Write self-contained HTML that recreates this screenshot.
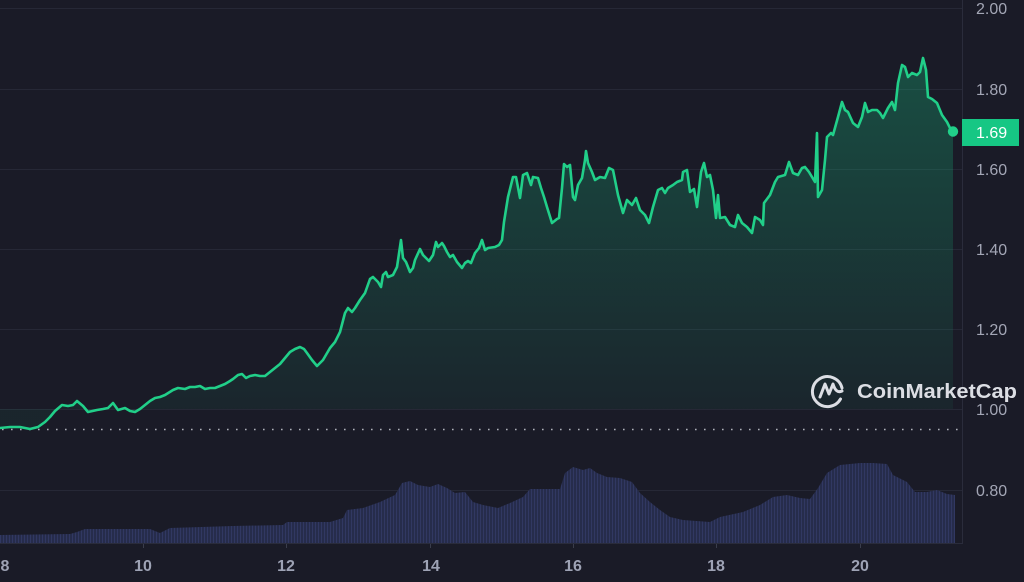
<!DOCTYPE html>
<html>
<head>
<meta charset="utf-8">
<style>
html,body{margin:0;padding:0;background:#1a1b27;}
svg{display:block;}
text{font-family:"Liberation Sans",sans-serif;}
</style>
</head>
<body>
<svg width="1024" height="582" viewBox="0 0 1024 582" xmlns="http://www.w3.org/2000/svg">
<defs>
<linearGradient id="fillg" x1="0" y1="58" x2="0" y2="409" gradientUnits="userSpaceOnUse">
<stop offset="0" stop-color="#16c784" stop-opacity="0.30"/>
<stop offset="1" stop-color="#16c784" stop-opacity="0.06"/>
</linearGradient>
<pattern id="vstripe" width="3" height="10" patternUnits="userSpaceOnUse">
<rect x="0" y="0" width="3" height="10" fill="#262c4b"/>
<rect x="0" y="0" width="1" height="10" fill="#313862"/>
</pattern>
</defs>
<rect width="1024" height="582" fill="#1a1b27"/>
<!-- gridlines -->
<g stroke="#262836" stroke-width="1">
<line x1="0" y1="8.5" x2="962" y2="8.5"/>
<line x1="0" y1="89.5" x2="962" y2="89.5"/>
<line x1="0" y1="169.5" x2="962" y2="169.5"/>
<line x1="0" y1="249.5" x2="962" y2="249.5"/>
<line x1="0" y1="329.5" x2="962" y2="329.5"/>
<line x1="0" y1="409.5" x2="962" y2="409.5"/>
<line x1="0" y1="490.5" x2="962" y2="490.5"/>
</g>
<!-- volume -->
<polygon fill="url(#vstripe)" points="0,535 70,534 77,532 85,529 150,529 160,533 170,528 233,526 283,525 287,522 330,522 343,518 347,510 363,508 380,502 395,495 402,483 410,481 418,485 430,487 438,484 447,488 455,493 465,492 473,502 483,505 498,508 510,503 523,497 530,489 560,489 565,473 573,467 583,470 590,468 597,473 607,477 620,478 632,482 640,493 650,502 660,510 670,517 683,520 710,522 720,517 743,512 760,505 773,497 787,495 800,498 810,499 818,488 827,473 840,465 860,463 873,463 887,464 893,475 907,482 915,492 927,492 937,490 947,494 955,495 955,543 0,543"/>
<!-- area fill -->
<polygon fill="url(#fillg)" points="0,428 10,427 20,427 30,429 38,427 45,422 50,417 55,411 62,405 68,406 73,405 77,401 83,406 88,412 97,410 103,409 108,408 113,403 118,410 125,408 130,411 135,412 140,409 145,405 150,401 155,398 160,397 165,395 173,390 178,388 185,389 190,387 195,387 200,386 205,389 210,388 215,388 220,386 225,384 230,381 233,379 238,375 242,374 246,378 250,376 255,375 260,376 265,376 270,372 275,368 280,364 285,358 290,352 295,349 300,347 304,349 307,353 312,360 317,366 323,360 330,348 335,342 340,332 345,313 348,308 352,312 355,308 360,300 365,293 370,279 373,277 378,282 381,287 383,275 386,272 388,277 393,275 397,267 401,240 403,258 406,262 410,272 413,268 415,260 420,249 423,255 429,261 433,255 436,242 438,247 442,243 444,246 447,252 450,257 453,255 457,262 462,268 465,263 468,261 471,263 475,253 479,248 482,240 485,250 488,248 495,247 499,245 502,240 504,222 508,197 513,177 516,177 520,198 523,175 527,173 531,185 533,177 538,178 541,188 544,197 547,207 552,223 557,219 559,218 562,188 564,164 567,167 570,165 573,197 575,200 578,185 582,178 585,160 586,151 588,163 592,172 595,180 600,177 605,178 609,168 613,170 615,180 618,195 623,213 627,200 632,205 636,198 640,210 645,215 649,223 653,207 658,190 662,188 665,193 668,188 673,185 677,182 682,180 683,172 687,170 690,192 694,189 697,207 701,172 704,163 707,177 710,175 713,190 716,218 718,195 720,218 725,217 730,225 735,227 738,215 742,223 747,227 752,233 755,217 760,220 763,225 764,203 770,195 775,182 778,177 785,175 789,162 793,173 798,175 802,168 805,167 809,172 812,177 815,182 817,133 818,197 822,190 825,160 827,137 831,133 833,135 838,117 842,102 845,110 848,112 853,123 858,127 862,117 865,103 868,112 872,110 877,110 880,113 883,118 888,108 892,102 895,110 898,83 902,65 905,67 908,77 912,73 917,75 920,72 923,58 926,70 928,97 932,99 937,103 942,115 947,122 950,128 953,132 953,409 0,409"/>
<!-- dotted baseline -->
<line x1="2" y1="429.5" x2="960" y2="429.5" stroke="#c9cbd3" stroke-width="1.6" stroke-dasharray="1.6 7.4" stroke-opacity="0.85"/>
<!-- price line -->
<polyline fill="none" stroke="#21cf89" stroke-width="2.6" stroke-linejoin="round" stroke-linecap="round" points="0,428 10,427 20,427 30,429 38,427 45,422 50,417 55,411 62,405 68,406 73,405 77,401 83,406 88,412 97,410 103,409 108,408 113,403 118,410 125,408 130,411 135,412 140,409 145,405 150,401 155,398 160,397 165,395 173,390 178,388 185,389 190,387 195,387 200,386 205,389 210,388 215,388 220,386 225,384 230,381 233,379 238,375 242,374 246,378 250,376 255,375 260,376 265,376 270,372 275,368 280,364 285,358 290,352 295,349 300,347 304,349 307,353 312,360 317,366 323,360 330,348 335,342 340,332 345,313 348,308 352,312 355,308 360,300 365,293 370,279 373,277 378,282 381,287 383,275 386,272 388,277 393,275 397,267 401,240 403,258 406,262 410,272 413,268 415,260 420,249 423,255 429,261 433,255 436,242 438,247 442,243 444,246 447,252 450,257 453,255 457,262 462,268 465,263 468,261 471,263 475,253 479,248 482,240 485,250 488,248 495,247 499,245 502,240 504,222 508,197 513,177 516,177 520,198 523,175 527,173 531,185 533,177 538,178 541,188 544,197 547,207 552,223 557,219 559,218 562,188 564,164 567,167 570,165 573,197 575,200 578,185 582,178 585,160 586,151 588,163 592,172 595,180 600,177 605,178 609,168 613,170 615,180 618,195 623,213 627,200 632,205 636,198 640,210 645,215 649,223 653,207 658,190 662,188 665,193 668,188 673,185 677,182 682,180 683,172 687,170 690,192 694,189 697,207 701,172 704,163 707,177 710,175 713,190 716,218 718,195 720,218 725,217 730,225 735,227 738,215 742,223 747,227 752,233 755,217 760,220 763,225 764,203 770,195 775,182 778,177 785,175 789,162 793,173 798,175 802,168 805,167 809,172 812,177 815,182 817,133 818,197 822,190 825,160 827,137 831,133 833,135 838,117 842,102 845,110 848,112 853,123 858,127 862,117 865,103 868,112 872,110 877,110 880,113 883,118 888,108 892,102 895,110 898,83 902,65 905,67 908,77 912,73 917,75 920,72 923,58 926,70 928,97 932,99 937,103 942,115 947,122 950,128 953,132"/>
<circle cx="953" cy="131.5" r="5.2" fill="#21cf89"/>
<!-- right border & bottom -->
<line x1="962.5" y1="0" x2="962.5" y2="544" stroke="#2a2c3b" stroke-width="1"/>
<line x1="0" y1="543.5" x2="963" y2="543.5" stroke="#2a2c3b" stroke-width="1"/>
<g stroke="#3a3d4c" stroke-width="1">
<line x1="143.5" y1="544" x2="143.5" y2="548"/>
<line x1="286.5" y1="544" x2="286.5" y2="548"/>
<line x1="430.5" y1="544" x2="430.5" y2="548"/>
<line x1="573.5" y1="544" x2="573.5" y2="548"/>
<line x1="716.5" y1="544" x2="716.5" y2="548"/>
<line x1="860.5" y1="544" x2="860.5" y2="548"/>
</g>
<!-- y labels -->
<g fill="#a3a6b5" font-size="16">
<text x="976" y="14">2.00</text>
<text x="976" y="95">1.80</text>
<text x="976" y="175">1.60</text>
<text x="976" y="255">1.40</text>
<text x="976" y="335">1.20</text>
<text x="976" y="415">1.00</text>
<text x="976" y="496">0.80</text>
</g>
<rect x="962" y="119" width="57" height="27" fill="#16c784"/>
<text x="976" y="138" fill="#ffffff" font-size="16">1.69</text>
<!-- x labels -->
<g fill="#9ea3b5" font-size="16" font-weight="bold" text-anchor="middle">
<text x="5" y="571">8</text>
<text x="143" y="571">10</text>
<text x="286" y="571">12</text>
<text x="431" y="571">14</text>
<text x="573" y="571">16</text>
<text x="716" y="571">18</text>
<text x="860" y="571">20</text>
</g>
<!-- watermark -->
<g fill="none" stroke="#dcdee4" stroke-width="3" stroke-linecap="round" stroke-linejoin="round">
<path d="M840.5,399 A15,15 0 1 1 842,388"/>
<path d="M820,397 L825,384 L829,394 L833,384 Q836,394 842,391"/>
</g>
<text x="857" y="398" fill="#dcdee4" font-size="20" font-weight="bold" textLength="160" lengthAdjust="spacingAndGlyphs">CoinMarketCap</text>
</svg>
</body>
</html>
